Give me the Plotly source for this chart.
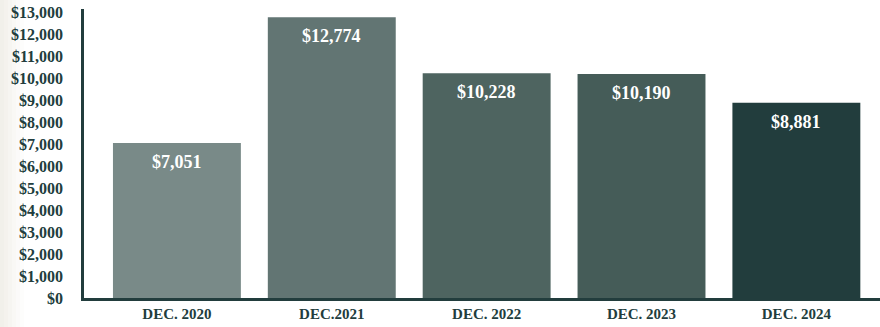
import plotly.graph_objects as go

# Year-end balances
periods = ["DEC. 2020", "DEC.2021", "DEC. 2022", "DEC. 2023", "DEC. 2024"]
balances = [7051, 12774, 10228, 10190, 8881]
bar_colors = ["#798a88", "#627573", "#4e6460", "#455c58", "#223d3d"]

tick_vals = list(range(0, 14000, 1000))
tick_text = [f"${v:,}" for v in tick_vals]

ink = "#223d3d"
serif = "Liberation Serif, Times New Roman, serif"

fig = go.Figure(
    go.Bar(
        x=periods,
        y=balances,
        marker=dict(color=bar_colors, line=dict(width=0)),
        hoverinfo="skip",
    )
)

# Value labels placed just inside the top of each bar
for p, v in zip(periods, balances):
    fig.add_annotation(
        x=p, y=v, text=f"<b>${v:,}</b>", showarrow=False,
        yanchor="top", yshift=-7,
        font=dict(family=serif, size=18, color="#ffffff"),
    )

# Soft shading along the left page edge
plot_w = 880 - 84
for i, op in enumerate([0.55, 0.45, 0.35, 0.25, 0.16, 0.08]):
    x0 = (-84 + i * 4) / plot_w
    x1 = (-84 + (i + 1) * 4) / plot_w
    fig.add_shape(
        type="rect", xref="paper", yref="paper",
        x0=x0, x1=x1, y0=-0.2, y1=1.1,
        fillcolor="#e6e3d8", opacity=op, line=dict(width=0), layer="below",
    )

fig.update_layout(
    width=880,
    height=327,
    margin=dict(l=84, r=0, t=9, b=29),
    paper_bgcolor="#ffffff",
    plot_bgcolor="#ffffff",
    bargap=0.174,
    showlegend=False,
    xaxis=dict(
        type="category",
        range=[-0.6, 4.54],
        showline=True, linecolor=ink, linewidth=2.5,
        showgrid=False, zeroline=False, ticks="",
        ticklabelstandoff=0,
        tickfont=dict(family=serif, size=15, color=ink, weight="bold"),
    ),
    yaxis=dict(
        range=[0, 13150],
        tickvals=tick_vals, ticktext=tick_text,
        showline=True, linecolor=ink, linewidth=2.5,
        showgrid=False, zeroline=False, ticks="",
        ticklabelstandoff=15,
        tickfont=dict(family=serif, size=16, color=ink, weight="bold"),
    ),
)

fig.write_html("out.html")
